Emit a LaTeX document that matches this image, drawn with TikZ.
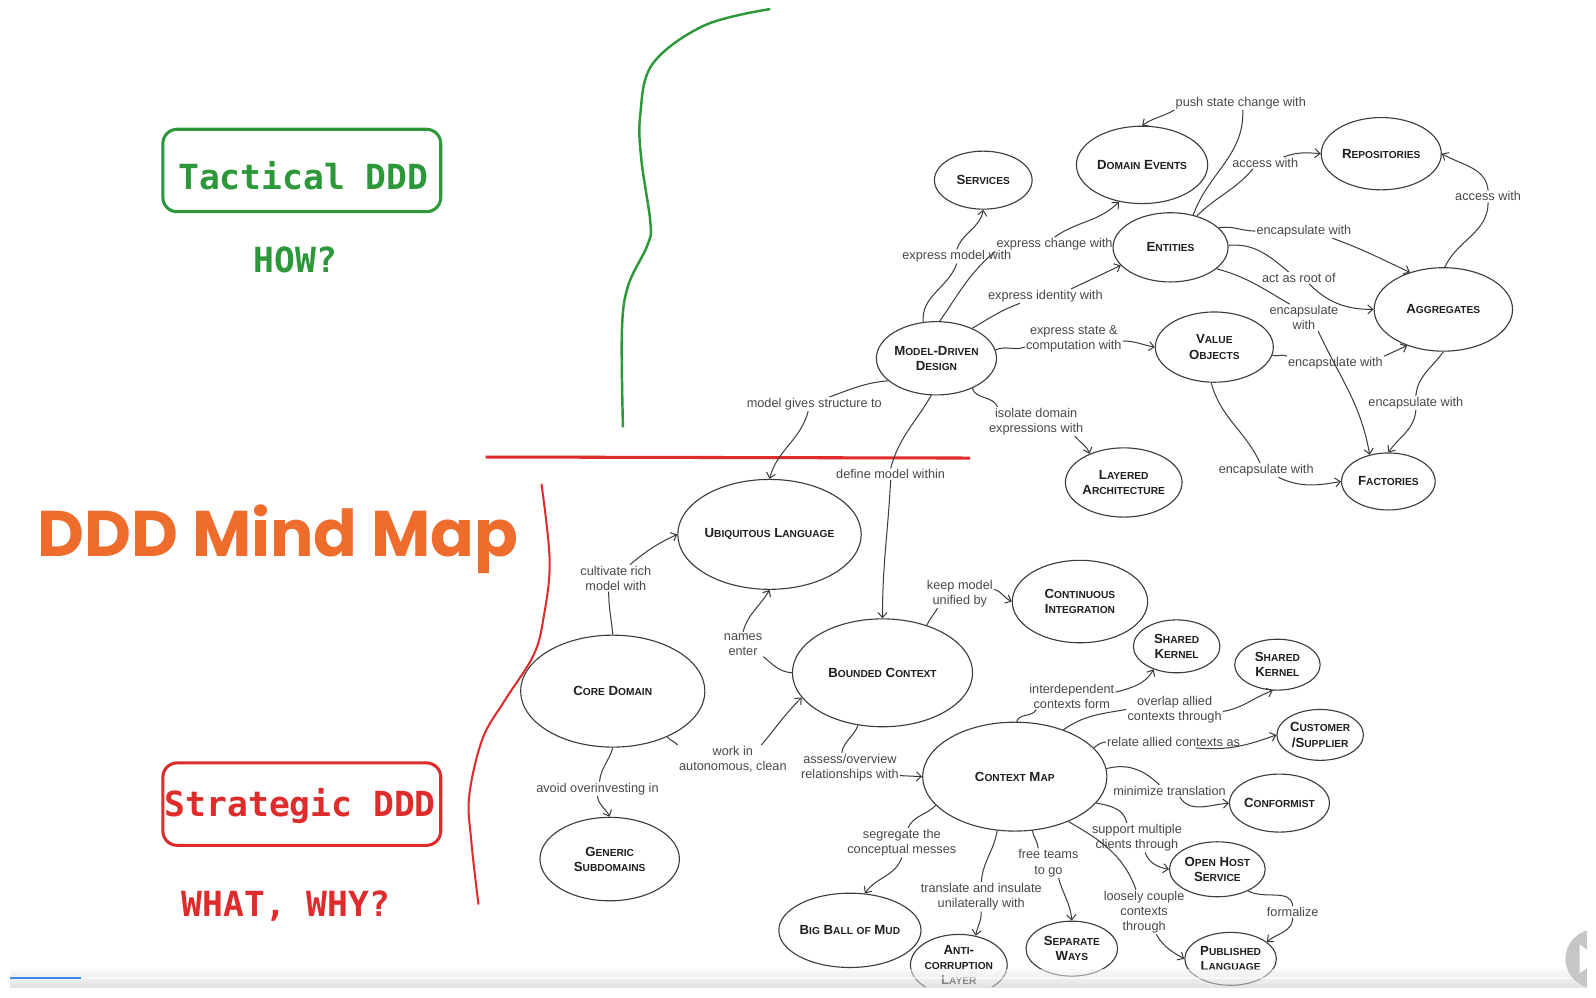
\documentclass[tikz,border=0pt]{standalone}
\usepackage{fontspec}
\setmainfont{Liberation Sans}
\newfontfamily\monofont{DejaVu Sans Mono}
\newfontfamily\titlefont{Poppins}
\usetikzlibrary{shapes.geometric,arrows.meta}
\definecolor{tgreen}{RGB}{44,152,58}
\definecolor{tred}{RGB}{222,44,44}
\definecolor{torange}{RGB}{238,108,44}
\definecolor{lnc}{RGB}{60,60,60}
\definecolor{lbc}{RGB}{72,72,72}
\definecolor{pblue}{RGB}{60,140,240}
\newcommand\sck[2]{#1{\fontsize{10}{12}\selectfont #2}}
\newcommand\scs[1]{{\fontsize{10}{12}\selectfont #1}}
\begin{document}
\begin{tikzpicture}[x=1pt,y=1pt,
  nd/.style={ellipse, draw=lnc, line width=1.1pt, inner sep=0pt, font=\fontsize{13}{15}\selectfont\bfseries, text=black!88, align=center},
  sz/.style 2 args={minimum width=#1pt, minimum height=#2pt},
  lbl/.style={font=\fontsize{12.5}{15}\selectfont, text=lbc, align=center, inner sep=1pt},
  edge/.style={draw=lnc, line width=1pt},
  arr/.style={edge, -{Straight Barb[length=5pt,width=9pt]}},
  titlebox/.style={draw, line width=3pt, rounded corners=14pt, minimum width=273pt, minimum height=81pt},
  monotxt/.style={font=\monofont\bfseries\fontsize{34}{40}\selectfont, anchor=base, inner sep=0pt}
]
\useasboundingbox (0,0) rectangle (1568,-980);
\fill[white] (0,0) rectangle (1568,-980);

% ---- left titles ----
\node[titlebox, draw=tgreen] (tacbox) at (296.5,-167.5) {};
\node[monotxt, text=tgreen] (tactxt) at (298,-186) {Tactical DDD};
\node[monotxt, text=tgreen] (how) at (290,-268) {HOW?};
\node[anchor=base, inner sep=0pt, text=torange, font=\titlefont\bfseries] (title) at (273,-547) {\resizebox{472pt}{!}{DDD Mind Map}};
\node[titlebox, draw=tred] (strbox) at (296.5,-790) {};
\node[monotxt, text=tred] (strtxt) at (295,-802) {Strategic DDD};
\node[monotxt, text=tred] (what) at (281,-900) {WHAT, WHY?};

% ---- hand-drawn separators ----
\draw[tgreen, line width=2.4pt, line cap=round] plot[smooth, tension=0.6] coordinates {(756,-9) (692,-25) (641,-63) (629,-113) (630,-156) (639,-219) (636,-241) (617,-281) (611,-325) (612,-419)};
\draw[tred, line width=3pt] (477,-449) -- (953,-450);
\draw[tred, line width=2pt, line cap=round] plot[smooth, tension=0.6] coordinates {(532,-476) (540,-551) (534,-607) (524,-644) (496,-688) (474,-726) (461,-782) (463,-826) (470,-888)};

% ---- concept nodes ----
\node[nd,sz={96}{57}] (svc) at (966,-177) {\sck{S}{ERVICES}};
\node[nd,sz={129}{76}] (de) at (1122,-162) {\sck{D}{OMAIN} \sck{E}{VENTS}};
\node[nd,sz={118}{71}] (repo) at (1357,-151) {\sck{R}{EPOSITORIES}};
\node[nd,sz={113}{68}] (ent) at (1150,-243) {\sck{E}{NTITIES}};
\node[nd,sz={136}{82}] (agg) at (1418,-304) {\sck{A}{GGREGATES}};
\node[nd,sz={118}{72}] (mdd) at (920,-352) {\sck{M}{ODEL}-\sck{D}{RIVEN}\\\sck{D}{ESIGN}};
\node[nd,sz={116}{69}] (vo) at (1193,-341) {\sck{V}{ALUE}\\\sck{O}{BJECTS}};
\node[nd,sz={110}{68}] (la) at (1104,-474) {\sck{L}{AYERED}\\\sck{A}{RCHITECTURE}};
\node[nd,sz={92}{56}] (fac) at (1364,-473) {\sck{F}{ACTORIES}};
\node[nd,sz={180}{108}] (ul) at (756,-525) {\sck{U}{BIQUITOUS} \sck{L}{ANGUAGE}};
\node[nd,sz={133}{81}] (ci) at (1061,-591) {\sck{C}{ONTINUOUS}\\\sck{I}{NTEGRATION}};
\node[nd,sz={85}{52}] (sk1) at (1156,-635) {\sck{S}{HARED}\\\sck{K}{ERNEL}};
\node[nd,sz={84}{50}] (sk2) at (1255,-653) {\sck{S}{HARED}\\\sck{K}{ERNEL}};
\node[nd,sz={181}{110}] (cd) at (602,-679) {\sck{C}{ORE} \sck{D}{OMAIN}};
\node[nd,sz={177}{106}] (bc) at (867,-661) {\sck{B}{OUNDED} \sck{C}{ONTEXT}};
\node[nd,sz={85}{50}] (cs) at (1297,-722) {\sck{C}{USTOMER}\\/\sck{S}{UPPLIER}};
\node[nd,sz={181}{107}] (cm) at (997,-763) {\sck{C}{ONTEXT} \sck{M}{AP}};
\node[nd,sz={95}{57}] (conf) at (1257,-789) {\sck{C}{ONFORMIST}};
\node[nd,sz={137}{82}] (gs) at (599,-844) {\sck{G}{ENERIC}\\\sck{S}{UBDOMAINS}};
\node[nd,sz={94}{54}] (ohs) at (1196,-854) {\sck{O}{PEN} \sck{H}{OST}\\\sck{S}{ERVICE}};
\node[nd,sz={128}{73}] (bbm) at (835,-914) {\sck{B}{IG} \sck{B}{ALL} \scs{OF} \sck{M}{UD}};
\node[nd,sz={93}{60}] (acl) at (942,-948) {\sck{A}{NTI}-\\\scs{CORRUPTION}\\\sck{L}{AYER}};
\node[nd,sz={90}{54}] (sw) at (1053,-932) {\sck{S}{EPARATE}\\\sck{W}{AYS}};
\node[nd,sz={90}{52}] (pl) at (1209,-942) {\sck{P}{UBLISHED}\\\sck{L}{ANGUAGE}};

% ---- connector labels ----
\node[lbl] (l1) at (940,-252) {express model with};
\node[lbl] (l2) at (1036,-240) {express change with};
\node[lbl] (l3) at (1027,-291) {express identity with};
\node[lbl] (l4) at (1055,-333) {express state \&\\computation with};
\node[lbl] (l5) at (1018,-414) {isolate domain\\expressions with};
\node[lbl] (l6) at (800,-397) {model gives structure to};
\node[lbl] (l7) at (875,-466) {define model within};
\node[lbl] (l8) at (1219,-101) {push state change with};
\node[lbl] (l9) at (1243,-160) {access with};
\node[lbl] (l10) at (1281,-227) {encapsulate with};
\node[lbl] (l11) at (1276,-273) {act as root of};
\node[lbl] (l12) at (1281,-312) {encapsulate\\with};
\node[lbl] (l13) at (1462,-193) {access with};
\node[lbl] (l14) at (1312,-357) {encapsulate with};
\node[lbl] (l15) at (1244,-462) {encapsulate with};
\node[lbl] (l16) at (1391,-396) {encapsulate with};
\node[lbl] (l17) at (605,-568) {cultivate rich\\model with};
\node[lbl] (l18) at (730,-633) {names\\enter};
\node[lbl] (l19) at (720,-746) {work in\\autonomous, clean};
\node[lbl] (l20) at (587,-775) {avoid overinvesting in};
\node[lbl] (l21) at (943,-583) {keep model\\unified by};
\node[lbl] (l22) at (835,-754) {assess/overview\\relationships with};
\node[lbl] (l23) at (1053,-684) {interdependent\\contexts form};
\node[lbl] (l24) at (1154,-697) {overlap allied\\contexts through};
\node[lbl] (l25) at (1153,-729) {relate allied contexts as};
\node[lbl] (l26) at (1149,-777) {minimize translation};
\node[lbl] (l27) at (1117,-823) {support multiple\\clients through};
\node[lbl] (l28) at (1124,-896) {loosely couple\\contexts\\through};
\node[lbl] (l29) at (1030,-848) {free teams\\to go};
\node[lbl] (l30) at (964,-881) {translate and insulate\\unilaterally with};
\node[lbl] (l31) at (886,-828) {segregate the\\conceptual messes};
\node[lbl] (l32) at (1270,-896) {formalize};

% ---- connectors ----
\draw[edge] (mdd.110) to[out=95,in=-110] (l1.south);
\draw[arr] (l1.north) to[out=70,in=-100] (svc.south);
\draw[edge] (mdd.85) to[out=55,in=220] (l2.south west);
\draw[arr] (l2.north) to[out=35,in=225] (de.238);
\draw[edge] (mdd.40) to[out=30,in=200] ([xshift=-25pt]l3.south);
\draw[arr] ([xshift=25pt]l3.north) to[out=25,in=205] (ent.200);
\draw[edge] (mdd.8) to[out=25,in=200] ([yshift=-8pt]l4.west);
\draw[arr] ([yshift=-2pt]l4.east) to[out=0,in=170] (vo.west);
\draw[edge] (mdd.-40) to[out=-70,in=115] ([xshift=-38pt]l5.north);
\draw[arr] ([xshift=38pt]l5.south) to[out=-50,in=110] (la.140);
\draw[edge] (mdd.205) to[out=185,in=20] ([xshift=15pt]l6.north);
\draw[arr] ([xshift=-6pt]l6.south) to[out=-105,in=75] (ul.north);
\draw[edge] (mdd.262) to[out=240,in=75] (l7.north);
\draw[arr] (l7.south) to[out=-93,in=90] (bc.north);
\draw[edge] (ent.55) to[out=70,in=-88] ([xshift=2pt]l8.south);
\draw[arr] (l8.south west) to[out=210,in=35] (de.north);
\draw[edge] (ent.50) to[out=45,in=-130] ([xshift=-12pt]l9.south);
\draw[arr] ([xshift=18pt]l9.north) to[out=20,in=175] (repo.west);
\draw[edge] (ent.22) to[out=10,in=180] (l10.west);
\draw[arr] ([xshift=28pt]l10.south) to[out=-20,in=155] (agg.132);
\draw[edge] (ent.2) to[out=5,in=140] ([xshift=-10pt]l11.north);
\draw[arr] ([xshift=10pt]l11.south) to[out=-45,in=180] (agg.west);
\draw[edge] (ent.-25) to[out=-15,in=150] ([xshift=-14pt]l12.north);
\draw[arr] ([xshift=14pt]l12.south) to[out=-65,in=100] (fac.125);
\draw[edge] (agg.88) to[out=65,in=-90] (l13.south);
\draw[arr] (l13.north) to[out=95,in=-30] (repo.east);
\draw[edge] (vo.-8) to[out=-20,in=150] (l14.north west);
\draw[arr] (l14.north east) to[out=25,in=205] (agg.-135);
\draw[edge] (vo.-95) to[out=-75,in=115] ([xshift=-6pt]l15.north);
\draw[arr] ([xshift=12pt]l15.south) to[out=-25,in=190] (fac.west);
\draw[edge] (agg.-90) to[out=-125,in=85] (l16.north);
\draw[arr] (l16.south) to[out=-95,in=55] (fac.north);
\draw[edge] (cd.north) to[out=95,in=-90] ([xshift=-7pt]l17.south);
\draw[arr] ([xshift=14pt]l17.north) to[out=40,in=205] (ul.west);
\draw[edge] (bc.west) to[out=175,in=-40] (l18.south east);
\draw[arr] (l18.north) to[out=75,in=-120] (ul.south);
\draw[edge] (cd.-40) to[out=-50,in=135] (l19.north west);
\draw[arr] ([xshift=28pt]l19.north) to[out=50,in=225] (bc.197);
\draw[edge] (cd.-90) to[out=-105,in=85] ([xshift=2pt]l20.north);
\draw[arr] (l20.south) to[out=-85,in=115] (gs.north);
\draw[edge] (bc.47) to[out=65,in=-120] ([xshift=-22pt]l21.south);
\draw[arr] ([yshift=4pt]l21.east) to[out=-15,in=155] (ci.west);
\draw[edge] (bc.-115) to[out=-110,in=80] ([xshift=-8pt]l22.north);
\draw[arr] ([yshift=-8pt]l22.east) -- (cm.west);
\draw[edge] (cm.88) to[out=75,in=-120] ([xshift=-35pt]l23.south);
\draw[arr] ([yshift=4pt]l23.east) to[out=15,in=-120] (sk1.-135);
\draw[edge] (cm.44) to[out=35,in=190] (l24.west);
\draw[arr] ([yshift=-2pt]l24.east) to[out=10,in=200] (sk2.-100);
\draw[edge] (cm.20) to[out=40,in=185] (l25.west);
\draw[arr] ([xshift=22pt]l25.south) to[out=-5,in=200] (cs.west);
\draw[edge] (cm.5) to[out=15,in=135] ([xshift=-10pt]l26.north);
\draw[arr] ([xshift=10pt]l26.south) to[out=-60,in=185] (conf.west);
\draw[edge] (cm.-18) to[out=-10,in=100] ([xshift=-10pt]l27.north);
\draw[arr] ([xshift=8pt]l27.south) to[out=-70,in=170] (ohs.west);
\draw[edge] (cm.-40) to[out=-30,in=110] ([xshift=-8pt]l28.north);
\draw[arr] ([xshift=12pt]l28.south) to[out=-60,in=150] (pl.west);
\draw[edge] (cm.-72) to[out=-80,in=95] ([xshift=-10pt]l29.north);
\draw[arr] ([xshift=10pt]l29.south) to[out=-75,in=95] (sw.north);
\draw[edge] (cm.-108) to[out=-100,in=85] (l30.north);
\draw[arr] (l30.south) to[out=-88,in=80] (acl.60);
\draw[edge] (cm.-160) to[out=-135,in=65] ([xshift=6pt]l31.north);
\draw[arr] (l31.south) to[out=-110,in=55] (bbm.68);
\draw[edge] (ohs.-35) to[out=-30,in=95] (l32.north);
\draw[arr] (l32.south) to[out=-90,in=40] (pl.25);

% ---- video player bar ----
\fill[white] (0,-970) rectangle (1568,-980);
\shade[top color=gray!6, bottom color=gray!40, opacity=0.55] (10,-952) rectangle (1559,-970);
\draw[white, opacity=0.5, line width=1.5pt] (80,-961) -- (1559,-961);
\draw[pblue, line width=2.6pt] (10,-961) -- (80,-961);
\begin{scope}
  \clip (1520,-900) rectangle (1559,-975);
  \fill[gray!45] (1567,-942) circle (29);
  \fill[white] (1552,-928) -- (1559,-933) -- (1559,-951) -- (1552,-956) -- cycle;
\end{scope}
\end{tikzpicture}
\end{document}
